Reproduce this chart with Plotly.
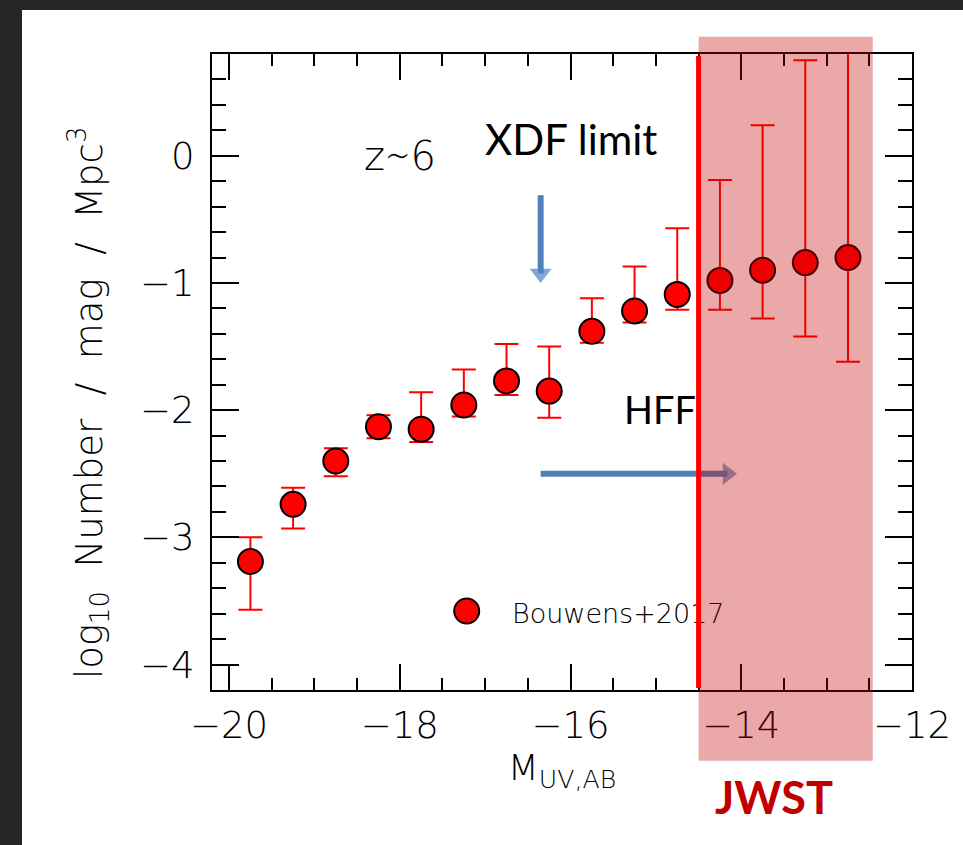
import plotly.graph_objects as go

# UV luminosity function at z~6 (Bouwens+2017)
mag_uv = [-19.75, -19.25, -18.75, -18.25, -17.75, -17.25, -16.75, -16.25,
          -15.75, -15.25, -14.75, -14.25, -13.75, -13.25, -12.75]
log_phi = [-3.19, -2.74, -2.40, -2.13, -2.15, -1.96, -1.77, -1.85,
           -1.38, -1.22, -1.09, -0.98, -0.90, -0.84, -0.80]
err_plus = [0.19, 0.13, 0.10, 0.09, 0.29, 0.28, 0.29, 0.35,
            0.26, 0.35, 0.52, 0.79, 1.14, 1.59, 1.80]
err_minus = [0.38, 0.19, 0.12, 0.09, 0.10, 0.09, 0.11, 0.21,
             0.09, 0.09, 0.12, 0.23, 0.38, 0.58, 0.82]

x_ticks = [-20, -18, -16, -14, -12]
y_ticks = [0, -1, -2, -3, -4]
x_range = [-20.2, -12.0]
y_range = [-4.2, 0.8]

# survey limits
xdf_limit = -16.35          # XDF depth (arrow)
xdf_arrow_y = [-0.31, -1.0]
hff_arrow_x = [-16.35, -14.05]
hff_arrow_y = -2.5
jwst_band = [-14.5, -12.46]
jwst_band_y = [-4.756, 0.936]

FIG_W, FIG_H = 963, 845
M_L, M_R, M_T, M_B = 212, 51, 54, 155
PLOT_W = FIG_W - M_L - M_R
PLOT_H = FIG_H - M_T - M_B


def xp(v):
    return (v - x_range[0]) / (x_range[1] - x_range[0])


def yp(v):
    return (v - y_range[0]) / (y_range[1] - y_range[0])


def px_x(p):
    return (p - M_L) / PLOT_W


def px_y(p):
    return (FIG_H - M_B - p) / PLOT_H


TICK_FONT = dict(family="DejaVu Sans", size=37, color="black", weight=200)
BLUE = "#4F81BD"
DARK_RED = "#C00000"
HEAD = 19  # arrowhead marker size (px)

fig = go.Figure()

fig.add_trace(go.Scatter(
    x=mag_uv, y=log_phi, mode="markers", name="Bouwens+2017",
    showlegend=False,
    marker=dict(size=25, color="red", line=dict(color="black", width=2)),
    error_y=dict(type="data", symmetric=False, array=err_plus,
                 arrayminus=err_minus, color="red", thickness=2, width=12),
))

# XDF limit arrow (vertical) and HFF arrow (horizontal)
for ax_x, ax_y in [([xdf_limit, xdf_limit], xdf_arrow_y),
                   (hff_arrow_x, [hff_arrow_y, hff_arrow_y])]:
    fig.add_trace(go.Scatter(
        x=ax_x, y=ax_y, mode="lines+markers",
        showlegend=False, hoverinfo="skip",
        line=dict(color=BLUE, width=6, backoff=HEAD / 2),
        marker=dict(symbol="triangle-up", size=[0, HEAD],
                    angleref="previous", standoff=HEAD / 2,
                    color=BLUE, line=dict(width=0)),
    ))

shapes = [
    # white page on a dark frame
    dict(type="rect", xref="paper", yref="paper", layer="below",
         x0=px_x(22), x1=px_x(FIG_W + 5), y0=px_y(FIG_H + 5), y1=px_y(10),
         fillcolor="white", line=dict(width=0)),
    # legend symbol
    dict(type="circle", xref="paper", yref="paper", layer="above",
         xsizemode="pixel", ysizemode="pixel",
         xanchor=px_x(466.7), yanchor=px_y(611),
         x0=-12.5, x1=12.5, y0=-12.5, y1=12.5,
         fillcolor="red", line=dict(color="black", width=2)),
    # legend label
    dict(type="rect", xref="paper", yref="paper", layer="above",
         x0=px_x(509), x1=px_x(760), y0=px_y(630), y1=px_y(592),
         fillcolor="rgba(0,0,0,0)", line=dict(width=0),
         label=dict(text="Bouwens+2017", textposition="middle left",
                    padding=0,
                    font=dict(family="DejaVu Sans", size=27, color="black",
                              weight=200))),
    # JWST band
    dict(type="rect", xref="paper", yref="paper", layer="above",
         x0=xp(jwst_band[0]), x1=xp(jwst_band[1]),
         y0=yp(jwst_band_y[0]), y1=yp(jwst_band_y[1]),
         fillcolor="rgba(192,0,0,0.34)", line=dict(width=0)),
    # HFF limit line
    dict(type="line", xref="x", yref="paper", layer="above",
         x0=jwst_band[0], x1=jwst_band[0], y0=0.003, y1=0.997,
         line=dict(color="red", width=5)),
]

annotations = [
    dict(text="z∼6", x=-18.0, y=0.0, xref="x", yref="y", showarrow=False,
         font=dict(family="DejaVu Sans", size=40, color="black", weight=200)),
    dict(text="XDF limit", x=-16.0, y=0.13, xref="x", yref="y",
         showarrow=False,
         font=dict(family="Lato", size=42, color="black")),
    dict(text="HFF", x=-14.95, y=-1.99, xref="x", yref="y", showarrow=False,
         font=dict(family="Lato", size=38, color="black")),
    dict(text="<b>JWST</b>", x=-13.62, y=px_y(797), xref="x", yref="paper",
         xanchor="center", yanchor="middle", showarrow=False,
         font=dict(family="Lato", size=45, color=DARK_RED)),
    dict(text="log<sub>10</sub>  Number  /  mag  /  Mpc<sup>3</sup>",
         x=px_x(88), y=px_y(403), xref="paper", yref="paper",
         xanchor="center", yanchor="middle",
         textangle=-90, showarrow=False,
         font=dict(family="DejaVu Sans", size=37, color="black", weight=200)),
]

axis_common = dict(
    showline=True, linecolor="black", linewidth=2, mirror="ticks",
    ticks="inside", tickwidth=2, tickcolor="black",
    showgrid=False, zeroline=False, tickfont=TICK_FONT,
)

fig.update_layout(
    width=FIG_W, height=FIG_H,
    margin=dict(l=M_L, r=M_R, t=M_T, b=M_B, pad=0),
    paper_bgcolor="#262626", plot_bgcolor="white",
    showlegend=False,
    xaxis=dict(
        range=x_range, tickvals=x_ticks, ticklen=26,
        ticklabelstandoff=2,
        title=dict(text="M<sub>UV,AB</sub>",
                   font=dict(family="DejaVu Sans", size=36, color="black",
                             weight=200), standoff=8),
        minor=dict(ticks="inside", ticklen=12, tickwidth=2,
                   tickcolor="black", dtick=0.5, tick0=-20, showgrid=False),
        **axis_common,
    ),
    yaxis=dict(
        range=y_range, tickvals=y_ticks, ticklen=27,
        ticklabelstandoff=8,
        minor=dict(ticks="inside", ticklen=14, tickwidth=2,
                   tickcolor="black", dtick=0.2, tick0=0, showgrid=False),
        **axis_common,
    ),
    shapes=shapes,
    annotations=annotations,
)

fig.write_html("out.html")
